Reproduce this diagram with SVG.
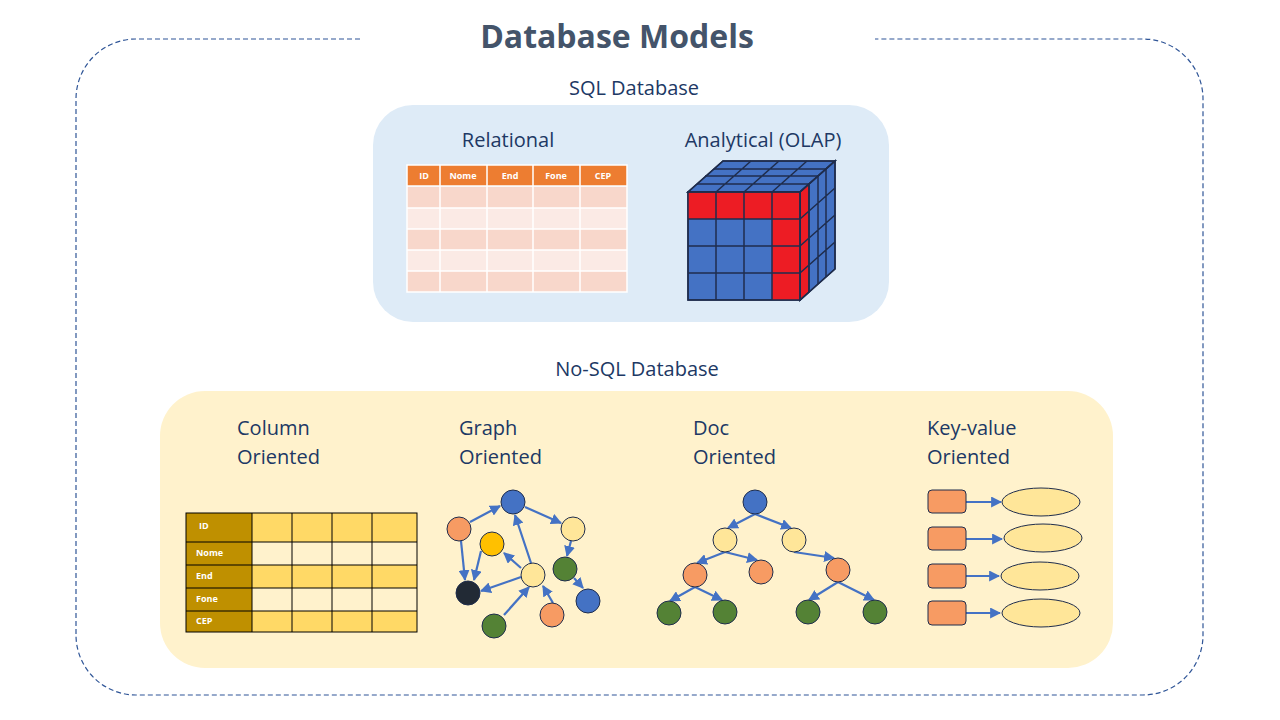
<svg xmlns="http://www.w3.org/2000/svg" width="1280" height="720" viewBox="0 0 1280 720">
<defs>
<marker id="ar" viewBox="0 0 10 10" refX="9" refY="5" markerWidth="5" markerHeight="5" orient="auto"><path d="M0,0L10,5L0,10z" fill="#4472C4"/></marker>
<style>
text{font-family:"Open Sans","Noto Sans",sans-serif}
.lbl{font-size:20px;fill:#203864}
.c{stroke:#1F2D4D;stroke-width:1}
.e{stroke:#4472C4;stroke-width:2.2;fill:none;marker-end:url(#ar)}
.th{font-size:9px;font-weight:bold;fill:#fff;text-anchor:middle}
.ct{font-size:9px;font-weight:bold;fill:#fff}
.g{stroke:#1F2D4D;stroke-width:1.5}
</style>
</defs>
<rect width="1280" height="720" fill="#fff"/>
<path d="M360,39H136A60,60 0 0 0 76,99V635A60,60 0 0 0 136,695H1143A60,60 0 0 0 1203,635V99A60,60 0 0 0 1143,39H875" fill="none" stroke="#2F5597" stroke-width="1.2" stroke-dasharray="5,3"/>
<text x="617" y="48" text-anchor="middle" font-size="32" font-weight="bold" fill="#44546A">Database Models</text>
<text x="634" y="95" text-anchor="middle" class="lbl">SQL Database</text>
<rect x="373" y="105" width="516" height="217" rx="40" fill="#DEEBF7"/>
<text x="508" y="147" text-anchor="middle" class="lbl">Relational</text>
<text x="763" y="147" text-anchor="middle" class="lbl">Analytical (OLAP)</text>
<g id="relational-table">
<rect x="407" y="165" width="220" height="21" fill="#ED7D31"/>
<rect x="407" y="187" width="220" height="21" fill="#F8D7CB"/>
<rect x="407" y="208" width="220" height="21" fill="#FBEAE5"/>
<rect x="407" y="229" width="220" height="21" fill="#F8D7CB"/>
<rect x="407" y="250" width="220" height="21" fill="#FBEAE5"/>
<rect x="407" y="271" width="220" height="21" fill="#F8D7CB"/>
<path d="M440,165V292M487,165V292M533,165V292M580,165V292M407,186H627M407,208H627M407,229H627M407,250H627M407,271H627" stroke="#fff" stroke-width="1.5"/>
<rect x="407" y="165" width="220" height="127" fill="none" stroke="#fff" stroke-width="1.5"/>
<text x="424" y="179" class="th">ID</text><text x="463" y="179" class="th">Nome</text><text x="510" y="179" class="th">End</text><text x="556" y="179" class="th">Fone</text><text x="603" y="179" class="th">CEP</text>
</g>
<g id="olap-cube">
<polygon points="688,192 800,192 835,161 723,161" fill="#4472C4" class="g"/>
<polygon points="800,192 835,161 835,269 800,300" fill="#4472C4" class="g"/>
<polygon points="800,192 809,184 809,292 800,300" fill="#ED1C24" class="g"/>
<rect x="688" y="192" width="112" height="108" fill="#4472C4" class="g"/>
<rect x="688" y="192" width="112" height="27" fill="#ED1C24"/>
<rect x="772" y="192" width="28" height="108" fill="#ED1C24"/>
<path d="M716,192V300M744,192V300M772,192V300M688,219H800M688,246H800M688,273H800" class="g"/>
<path d="M716,192L751,161M744,192L779,161M772,192L807,161M697,184H809M705,176H818M714,169H826" class="g" fill="none"/>
<path d="M809,184V292M818,176V284M826,169V277M800,219L835,188M800,246L835,215M800,273L835,242" class="g" fill="none"/>
<rect x="688" y="192" width="112" height="108" fill="none" class="g"/>
<polygon points="688,192 800,192 835,161 723,161" fill="none" class="g"/>
<polygon points="800,192 835,161 835,269 800,300" fill="none" class="g"/>
</g>
<text x="637" y="376" text-anchor="middle" class="lbl">No-SQL Database</text>
<rect x="160" y="391" width="953" height="277" rx="45" fill="#FFF2CC"/>
<text class="lbl"><tspan x="237" y="435">Column</tspan><tspan x="237" y="464">Oriented</tspan></text>
<text class="lbl"><tspan x="459" y="435">Graph</tspan><tspan x="459" y="464">Oriented</tspan></text>
<text class="lbl"><tspan x="693" y="435">Doc</tspan><tspan x="693" y="464">Oriented</tspan></text>
<text class="lbl"><tspan x="927" y="435">Key-value</tspan><tspan x="927" y="464">Oriented</tspan></text>
<g id="column-table">
<rect x="186" y="513" width="231" height="29" fill="#FFD966"/>
<rect x="186" y="542" width="231" height="23" fill="#FFF2CC"/>
<rect x="186" y="565" width="231" height="23" fill="#FFD966"/>
<rect x="186" y="588" width="231" height="23" fill="#FFF2CC"/>
<rect x="186" y="611" width="231" height="21" fill="#FFD966"/>
<rect x="186" y="513" width="66" height="119" fill="#BF9000"/>
<path d="M252,513V632M292,513V632M332,513V632M372,513V632M186,542H417M186,565H417M186,588H417M186,611H417" stroke="#000" stroke-width="1"/>
<rect x="186" y="513" width="231" height="119" fill="none" stroke="#000" stroke-width="1"/>
<text x="199" y="529" class="ct" font-size="10">ID</text>
<text x="196" y="556" class="ct">Nome</text><text x="196" y="579" class="ct">End</text><text x="196" y="602" class="ct">Fone</text><text x="196" y="624" class="ct">CEP</text>
</g>
<g id="connectors">
<line x1="470" y1="522" x2="500" y2="506" class="e"/>
<line x1="525" y1="507" x2="561" y2="523" class="e"/>
<line x1="571" y1="541" x2="567" y2="556" class="e"/>
<line x1="574" y1="578" x2="583" y2="588" class="e"/>
<line x1="531" y1="563" x2="515" y2="515" class="e"/>
<line x1="521" y1="568" x2="504" y2="553" class="e"/>
<line x1="521" y1="577" x2="481" y2="591" class="e"/>
<line x1="461" y1="541" x2="465" y2="580" class="e"/>
<line x1="481" y1="551" x2="474" y2="580" class="e"/>
<line x1="504" y1="615" x2="529" y2="587" class="e"/>
<line x1="553" y1="603" x2="543" y2="586" class="e"/>
<line x1="755" y1="514" x2="728" y2="528" class="e"/>
<line x1="755" y1="514" x2="791" y2="528" class="e"/>
<line x1="725" y1="552" x2="697" y2="563" class="e"/>
<line x1="725" y1="552" x2="757" y2="560" class="e"/>
<line x1="794" y1="552" x2="834" y2="558" class="e"/>
<line x1="695" y1="587" x2="670" y2="601" class="e"/>
<line x1="695" y1="587" x2="722" y2="600" class="e"/>
<line x1="838" y1="582" x2="809" y2="600" class="e"/>
<line x1="838" y1="582" x2="874" y2="600" class="e"/>
<line x1="966" y1="502" x2="1001" y2="502" class="e"/>
<line x1="966" y1="539" x2="1002" y2="539" class="e"/>
<line x1="966" y1="576" x2="999" y2="576" class="e"/>
<line x1="966" y1="613" x2="1000" y2="613" class="e"/>
</g>
<g id="graph-nodes">
<circle id="ga" cx="513" cy="502" r="12" fill="#4472C4" class="c"/>
<circle id="gb" cx="459" cy="529" r="12" fill="#F79B63" class="c"/>
<circle id="gc" cx="573" cy="529" r="12" fill="#FFE699" class="c"/>
<circle id="gd" cx="492" cy="544" r="12" fill="#FFC000" class="c"/>
<circle id="ge" cx="565" cy="569" r="12" fill="#548235" class="c"/>
<circle id="gf" cx="533" cy="575" r="12" fill="#FFE699" class="c"/>
<circle id="gg" cx="468" cy="593" r="12" fill="#222A35" class="c"/>
<circle id="gh" cx="588" cy="601" r="12" fill="#4472C4" class="c"/>
<circle id="gi" cx="552" cy="615" r="12" fill="#F79B63" class="c"/>
<circle id="gj" cx="494" cy="626" r="12" fill="#548235" class="c"/>
</g>
<g id="doc-nodes">
<circle cx="755" cy="502" r="12" fill="#4472C4" class="c"/>
<circle cx="725" cy="540" r="12" fill="#FFE699" class="c"/>
<circle cx="794" cy="540" r="12" fill="#FFE699" class="c"/>
<circle cx="695" cy="575" r="12" fill="#F79B63" class="c"/>
<circle cx="761" cy="572" r="12" fill="#F79B63" class="c"/>
<circle cx="838" cy="570" r="12" fill="#F79B63" class="c"/>
<circle cx="669" cy="613" r="12" fill="#548235" class="c"/>
<circle cx="725" cy="612" r="12" fill="#548235" class="c"/>
<circle cx="808" cy="612" r="12" fill="#548235" class="c"/>
<circle cx="875" cy="612" r="12" fill="#548235" class="c"/>
</g>
<g id="kv-nodes">
<rect x="928" y="490" width="38" height="23" rx="4" fill="#F79B63" class="c"/>
<rect x="928" y="527" width="38" height="23" rx="4" fill="#F79B63" class="c"/>
<rect x="928" y="564" width="38" height="24" rx="4" fill="#F79B63" class="c"/>
<rect x="928" y="601" width="38" height="24" rx="4" fill="#F79B63" class="c"/>
<ellipse cx="1041" cy="502" rx="39" ry="14" fill="#FFE699" class="c"/>
<ellipse cx="1043" cy="538" rx="39" ry="14" fill="#FFE699" class="c"/>
<ellipse cx="1040" cy="576" rx="39" ry="14" fill="#FFE699" class="c"/>
<ellipse cx="1041" cy="613" rx="39" ry="14" fill="#FFE699" class="c"/>
</g>
</svg>
